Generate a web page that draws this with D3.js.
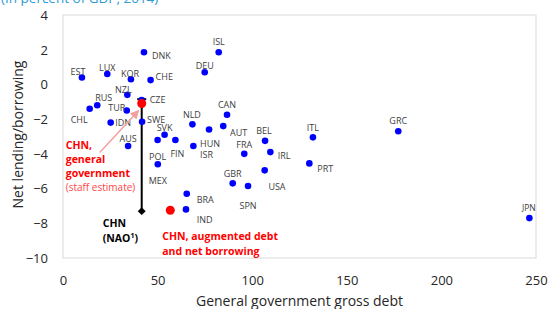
<!DOCTYPE html>
<html>
<head>
<meta charset="utf-8">
<script src="https://cdn.jsdelivr.net/npm/d3@7"></script>
<style>
  body { margin: 0; background: #fff; }
  text { font-family: "Open Sans", "Noto Sans", sans-serif; }
</style>
</head>
<body>
<div id="chart"></div>
<script>
// Countries: general government gross debt vs net lending/borrowing (% of GDP, 2014)
const countries = ['EST','LUX','KOR','DNK','CHE','ISL','DEU','NZL','CZE','RUS','TUR','CHL','IDN','SWE','AUS',
  'SVK','POL','MEX','FIN','NLD','HUN','ISR','CAN','AUT','BEL','FRA','IRL','USA','GBR','SPN','ITL','GRC','PRT',
  'JPN','BRA','IND'];
const grossDebt = [10, 23.4, 35.9, 42.8, 46.3, 82.3, 74.9, 34, 41.6, 18.1, 33.7, 14.1, 25.2, 41.8, 34.4,
  53.7, 50, 50.1, 59.4, 68.4, 77.2, 68.9, 86.7, 84.7, 106.8, 95.8, 109.6, 106.6, 89.7, 97.8, 132.1, 177.2, 130.2,
  246.5, 65.4, 65];
const netLending = [0.4, 0.6, 0.3, 1.85, 0.25, 1.85, 0.7, -0.6, -0.9, -1.2, -1.5, -1.4, -2.2, -2.15, -3.55,
  -2.9, -3.2, -4.6, -3.2, -2.3, -2.6, -3.55, -1.75, -2.4, -3.25, -4.0, -3.9, -4.95, -5.7, -5.85, -3.05, -2.7, -4.55,
  -7.7, -6.3, -7.2];

// China estimates
const chnGeneralGov = { debt: 41.6, lending: -1.1 };
const chnNAO = { debt: 41.6, lending: -7.3, top: -0.85 };
const chnAugmented = { debt: 56.7, lending: -7.25 };

const xTicks = [0, 50, 100, 150, 200, 250];
const yTicks = [4, 2, 0, -2, -4, -6, -8, -10];

// label placement [dx, dy, anchor] relative to each dot
const labelPos = {
  EST: [-4, -6, 'middle'], LUX: [0, -6, 'middle'], KOR: [-1, -5.5, 'middle'], DNK: [8, 4, 'start'],
  CHE: [5, -3.5, 'start'], ISL: [0, -10, 'middle'], DEU: [0, -6.5, 'middle'], NZL: [-4, -5, 'middle'],
  CZE: [8, 0, 'start'], RUS: [6.5, -7.5, 'middle'], TUR: [-1.5, -3, 'end'], CHL: [-2, 11, 'end'],
  IDN: [4.5, 0, 'start'], SWE: [5, -1.5, 'start'], AUS: [0, -7, 'middle'], SVK: [0, -6.5, 'middle'],
  POL: [0, 17, 'middle'], MEX: [0, 16.5, 'middle'], FIN: [2, 13.5, 'middle'], NLD: [-0.5, -9.5, 'middle'],
  HUN: [1, 14, 'middle'], ISR: [6.7, 9, 'start'], CAN: [0, -10, 'middle'], AUT: [6.7, 7, 'start'],
  BEL: [-1, -10, 'middle'], FRA: [0, -9, 'middle'], IRL: [7.3, 3.5, 'start'], USA: [3.7, 16.5, 'start'],
  GBR: [0, -9.5, 'middle'], SPN: [0, 20, 'middle'], ITL: [0, -10, 'middle'], GRC: [0, -10.5, 'middle'],
  PRT: [8, 5, 'start'], JPN: [-0.5, -10, 'middle'], BRA: [10, 6, 'start'], IND: [10.7, 10.7, 'start']
};

const width = 548, height = 309;
const margin = { top: 15, right: 12, bottom: 51, left: 63 };

const svg = d3.select('#chart').append('svg').attr('width', width).attr('height', height);

const x = d3.scaleLinear().domain([0, 250]).range([margin.left, width - margin.right]);
const y = d3.scaleLinear().domain([-10, 4]).range([height - margin.bottom, margin.top]);

// title (cut off at the top in the original)
svg.append('text').attr('x', 1).attr('y', 2.5)
  .attr('fill', '#2e9bd6').attr('font-size', 13.5)
  .text('(In percent of GDP, 2014)');

// plot frame
svg.append('rect')
  .attr('x', x(0)).attr('y', y(4))
  .attr('width', x(250) - x(0)).attr('height', y(-10) - y(4))
  .attr('fill', 'none').attr('stroke', '#d9d9d9').attr('stroke-width', 1);

// axes (labels only)
const xAxis = svg.append('g').attr('transform', `translate(0,${y(-10) + 18})`)
  .call(d3.axisBottom(x).tickValues(xTicks).tickSize(0).tickPadding(0));
const yAxis = svg.append('g').attr('transform', `translate(${margin.left - 15},0)`)
  .call(d3.axisLeft(y).tickValues(yTicks).tickSize(0).tickPadding(0));
[xAxis, yAxis].forEach(function (g) {
  g.select('.domain').remove();
  g.selectAll('text').attr('font-size', 13).attr('fill', '#262626')
    .attr('font-family', '"Open Sans", sans-serif');
});
yAxis.selectAll('text').attr('dy', '0.33em');

svg.append('text').attr('x', (x(0) + x(250)) / 2).attr('y', 306)
  .attr('text-anchor', 'middle').attr('font-size', 14).attr('fill', '#262626')
  .text('General government gross debt');
svg.append('text').attr('transform', `translate(23,${(y(4) + y(-10)) / 2 - 2}) rotate(-90)`)
  .attr('text-anchor', 'middle').attr('font-size', 14).attr('fill', '#262626')
  .text('Net lending/borrowing');

const dataSet = countries.map(function (c, i) {
  return { name: c, debt: grossDebt[i], lending: netLending[i] };
});

// CHN NAO vertical line
svg.append('line')
  .attr('x1', x(chnNAO.debt)).attr('x2', x(chnNAO.debt))
  .attr('y1', y(chnNAO.top)).attr('y2', y(chnNAO.lending))
  .attr('stroke', '#000').attr('stroke-width', 2);
svg.append('line')
  .attr('x1', x(chnNAO.debt) - 4.5).attr('x2', x(chnNAO.debt) + 4.5)
  .attr('y1', y(chnNAO.top)).attr('y2', y(chnNAO.top))
  .attr('stroke', '#000').attr('stroke-width', 2);
svg.append('path')
  .attr('d', d3.symbol().type(d3.symbolDiamond2).size(40))
  .attr('transform', `translate(${x(chnNAO.debt)},${y(chnNAO.lending)})`)
  .attr('fill', '#000');

// country dots
svg.append('g').selectAll('circle').data(dataSet).enter().append('circle')
  .attr('cx', function (d) { return x(d.debt); })
  .attr('cy', function (d) { return y(d.lending); })
  .attr('r', 3.3)
  .attr('fill', '#0000ff');

svg.append('g').selectAll('text').data(dataSet).enter().append('text')
  .attr('x', function (d) { return x(d.debt) + labelPos[d.name][0]; })
  .attr('y', function (d) { return y(d.lending) + labelPos[d.name][1]; })
  .attr('dy', '0.35em')
  .attr('text-anchor', function (d) { return labelPos[d.name][2]; })
  .attr('font-size', function (d) { return d.name === 'JPN' ? 8.5 : 9; })
  .attr('fill', '#404040')
  .text(function (d) { return d.name; });

// red CHN dots
svg.append('circle').attr('cx', x(chnGeneralGov.debt)).attr('cy', y(chnGeneralGov.lending))
  .attr('r', 4.5).attr('fill', '#ff0000');
svg.append('circle').attr('cx', x(chnAugmented.debt)).attr('cy', y(chnAugmented.lending))
  .attr('r', 4.5).attr('fill', '#ff0000');

// arrow to CHN general government
svg.append('defs').append('marker')
  .attr('id', 'arrow').attr('viewBox', '0 0 10 10').attr('refX', 9).attr('refY', 5)
  .attr('markerWidth', 6).attr('markerHeight', 6).attr('orient', 'auto')
  .append('path').attr('d', 'M0,0 L10,5 L0,10 z').attr('fill', '#f4a0a0');
svg.append('line')
  .attr('x1', x(chnGeneralGov.debt) - 42).attr('y1', y(chnGeneralGov.lending) + 49)
  .attr('x2', x(chnGeneralGov.debt) - 3).attr('y2', y(chnGeneralGov.lending) + 7)
  .attr('stroke', '#f4a0a0').attr('stroke-width', 1.5)
  .attr('marker-end', 'url(#arrow)');

// annotations
const gx = x(chnGeneralGov.debt) - 76, gy = y(chnGeneralGov.lending) + 45;
const genLines = [['CHN,', 'bold', 10.5, '#ff0000'], ['general', 'bold', 10.5, '#ff0000'],
  ['government', 'bold', 10.5, '#ff0000'], ['(staff estimate)', 'normal', 10, '#ff4545']];
genLines.forEach(function (l, i) {
  svg.append('text').attr('x', gx).attr('y', gy + i * 14.2)
    .attr('font-weight', l[1]).attr('font-size', l[2]).attr('fill', l[3]).text(l[0]);
});

const nx = x(chnNAO.debt) - 39, ny = y(chnNAO.lending) + 15.5;
const nao = svg.append('text').attr('x', nx).attr('y', ny)
  .attr('font-weight', 'bold').attr('font-size', 10.5).attr('fill', '#000');
nao.append('tspan').attr('x', nx).text('CHN');
nao.append('tspan').attr('x', nx).attr('dy', 15.5).text('(NAO');
nao.append('tspan').attr('font-size', 7).attr('dy', -4).text('1');
nao.append('tspan').attr('dy', 4).text(')');

const ax = x(chnAugmented.debt) - 8, ay = y(chnAugmented.lending) + 29.5;
['CHN, augmented debt', 'and net borrowing'].forEach(function (t, i) {
  svg.append('text').attr('x', ax).attr('y', ay + i * 15)
    .attr('font-weight', 'bold').attr('font-size', 10.5).attr('fill', '#ff0000').text(t);
});
</script>
</body>
</html>
